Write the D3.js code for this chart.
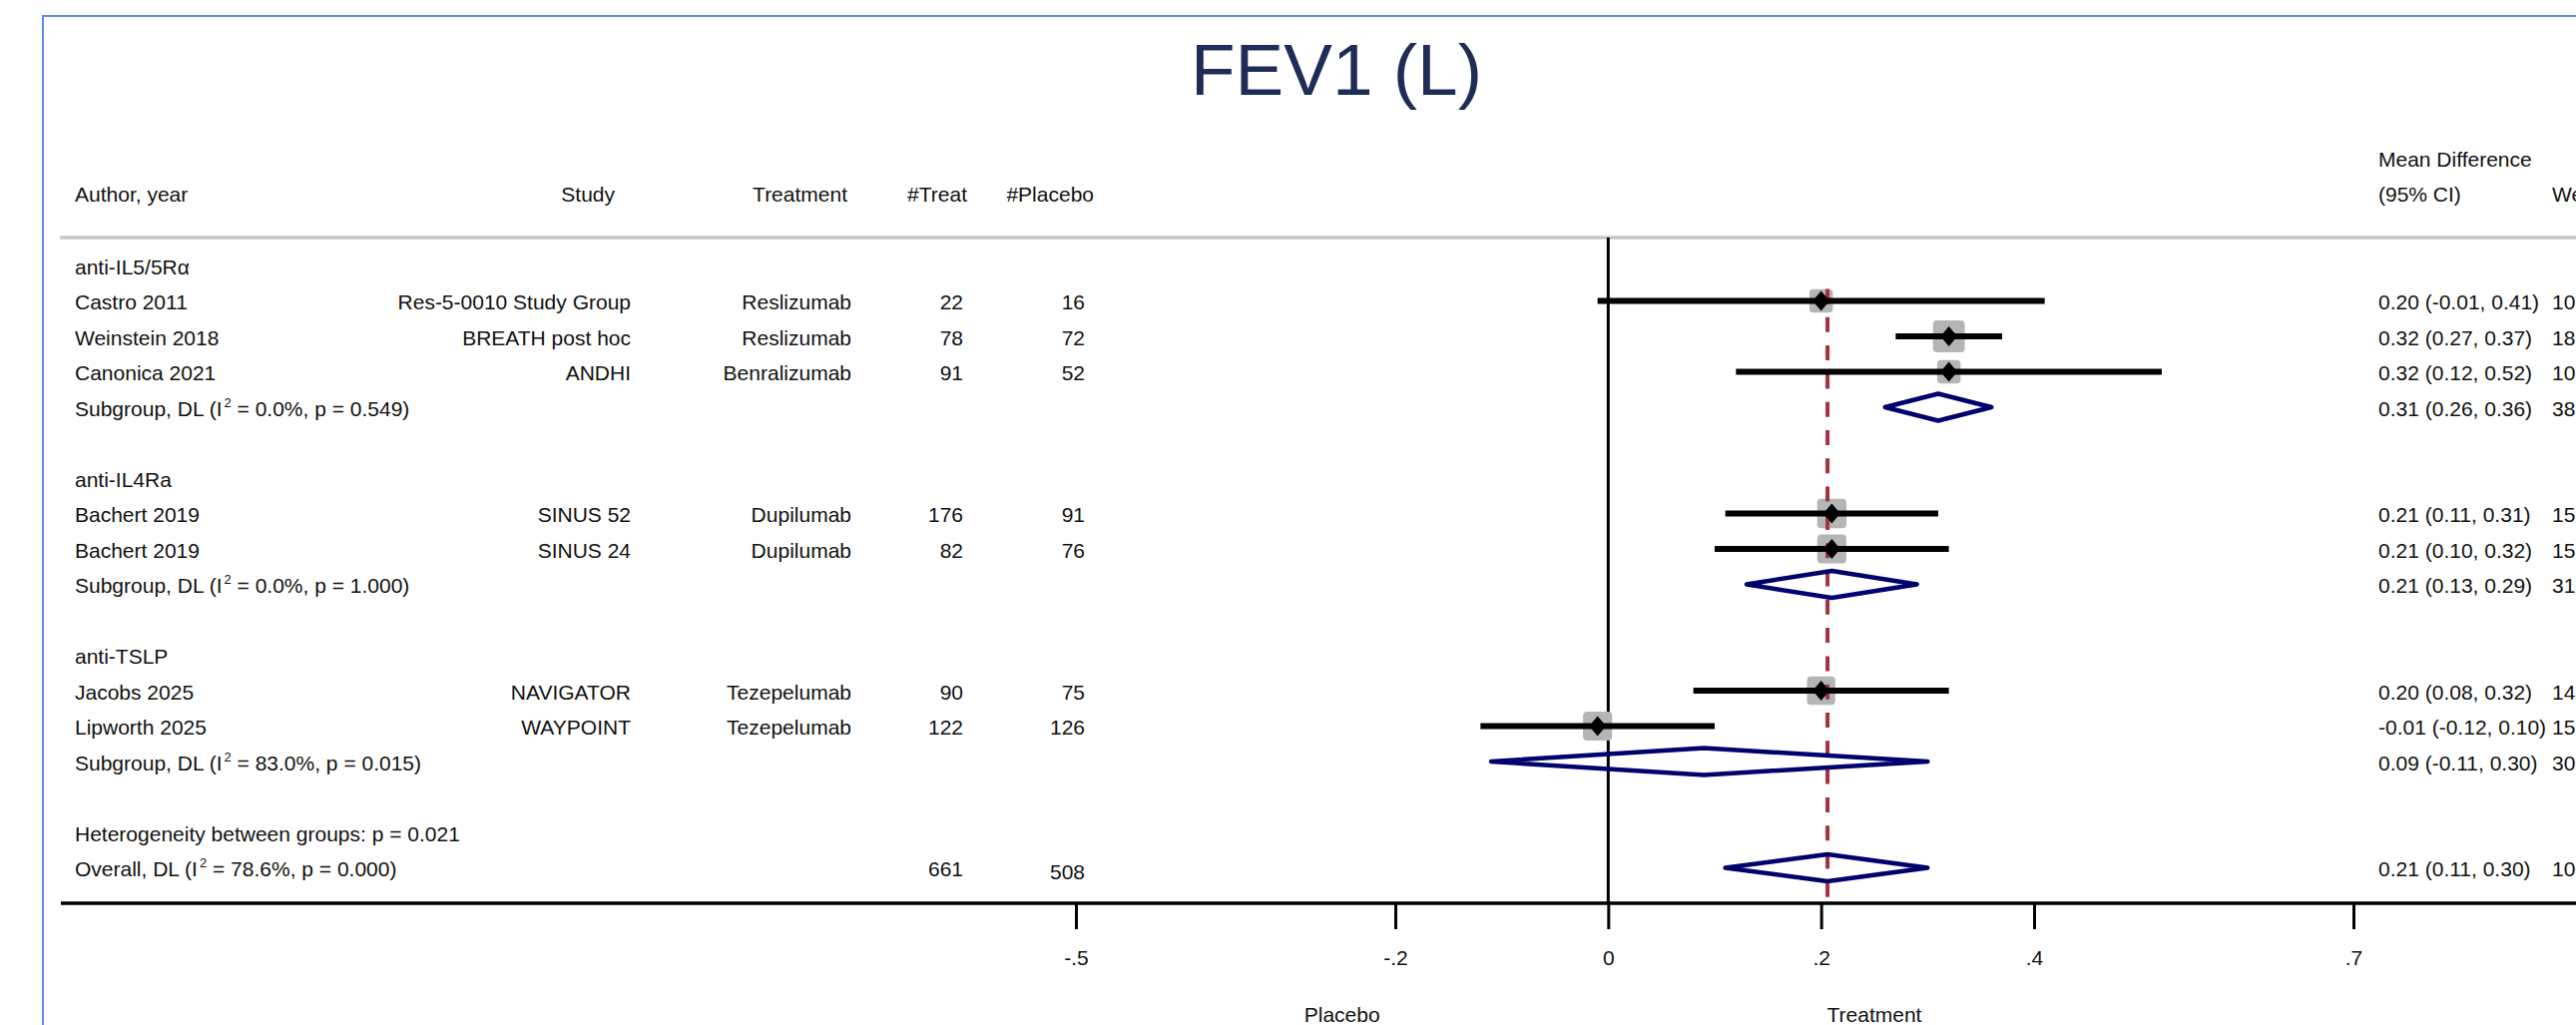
<!DOCTYPE html>
<html>
<head>
<meta charset="utf-8">
<script src="https://cdn.jsdelivr.net/npm/d3@7"></script>
<style>
  html, body { margin: 0; padding: 0; background: #fff; }
  svg { display: block; }
  text { font-family: "Liberation Sans", Arial, sans-serif; fill: #111; }
</style>
</head>
<body>
<svg id="chart" width="2581" height="1027"></svg>
<script>
// ---------------- DATA ----------------
const title = "FEV1 (L)";
const groupNames = ["anti-IL5/5Rα", "anti-IL4Ra", "anti-TSLP"];
const groupOf    = [0, 0, 0, 1, 1, 2, 2];
const authors    = ["Castro 2011", "Weinstein 2018", "Canonica 2021", "Bachert 2019", "Bachert 2019", "Jacobs 2025", "Lipworth 2025"];
const studies    = ["Res-5-0010 Study Group", "BREATH post hoc", "ANDHI", "SINUS 52", "SINUS 24", "NAVIGATOR", "WAYPOINT"];
const treatments = ["Reslizumab", "Reslizumab", "Benralizumab", "Dupilumab", "Dupilumab", "Tezepelumab", "Tezepelumab"];
const nTreat     = [22, 78, 91, 176, 82, 90, 122];
const nPlacebo   = [16, 72, 52, 91, 76, 75, 126];
const md         = [0.20, 0.32, 0.32, 0.21, 0.21, 0.20, -0.01];
const mdLow      = [-0.01, 0.27, 0.12, 0.11, 0.10, 0.08, -0.12];
const mdHigh     = [0.41, 0.37, 0.52, 0.31, 0.32, 0.32, 0.10];
const weights    = [10.14, 18.47, 10.09, 15.70, 15.50, 14.60, 15.50];

const subMD      = [0.31, 0.21, 0.09];
const subLow     = [0.26, 0.13, -0.11];
const subHigh    = [0.36, 0.29, 0.30];
const subWeight  = [38.70, 31.20, 30.10];
const subI2      = ["0.0", "0.0", "83.0"];
const subP       = ["0.549", "1.000", "0.015"];

const overallMD = 0.206, overallLow = 0.11, overallHigh = 0.30;
const overallI2 = "78.6", overallP = "0.000", hetP = "0.021";
const overallNTreat = 661, overallNPlacebo = 508;

const tickValues = [-0.5, -0.2, 0, 0.2, 0.4, 0.7];
const tickLabels = ["-.5", "-.2", "0", ".2", ".4", ".7"];
const sideLabels = ["Placebo", "Treatment"];

// ---------------- LAYOUT ----------------
const W = 2581, H = 1027;
const FS = 21;
const svg = d3.select("#chart");
const locale = d3.formatLocale({decimal: ".", thousands: ",", grouping: [3], currency: ["", ""], minus: "-"});
const f2 = locale.format(".2f");

const x = d3.scaleLinear().domain([-0.5, 0.7]).range([1078, 2358]);
const y = d3.scaleLinear().domain([0, 17]).range([266, 266 + 35.5 * 17]);
const axisY = 905, sepY = 238;

// Build rows
const rows = [];
let r = 0;
groupNames.forEach((g, gi) => {
  rows.push({type: "group", row: r++, label: g});
  md.forEach((v, i) => { if (groupOf[i] === gi) rows.push({type: "study", row: r++, i}); });
  rows.push({type: "sub", row: r++, gi});
  r++; // blank
});
rows.push({type: "het", row: r++});
rows.push({type: "overall", row: r++});

// Border
svg.append("rect").attr("x", 43).attr("y", 16).attr("width", W).attr("height", H + 50)
  .attr("fill", "none").attr("stroke", "#5b8ce0").attr("stroke-width", 2);

// Title
svg.append("text").attr("x", 1339).attr("y", 95).attr("text-anchor", "middle")
  .style("font-size", "73px").style("fill", "#1e2c56").text(title);

// Headers
const hdr = svg.append("g").style("font-size", FS + "px");
hdr.append("text").attr("x", 75).attr("y", 202).text("Author, year");
hdr.append("text").attr("x", 616).attr("y", 202).attr("text-anchor", "end").text("Study");
hdr.append("text").attr("x", 849).attr("y", 202).attr("text-anchor", "end").text("Treatment");
hdr.append("text").attr("x", 969).attr("y", 202).attr("text-anchor", "end").text("#Treat");
hdr.append("text").attr("x", 1096).attr("y", 202).attr("text-anchor", "end").text("#Placebo");
hdr.append("text").attr("x", 2383).attr("y", 167).text("Mean Difference");
hdr.append("text").attr("x", 2383).attr("y", 202).text("(95% CI)");
hdr.append("text").attr("x", 2557).attr("y", 202).text("Weight");

// Separator line
svg.append("line").attr("x1", 60).attr("x2", W).attr("y1", sepY).attr("y2", sepY)
  .attr("stroke", "#c6c6c6").attr("stroke-width", 3.5);

// Zero line
svg.append("line").attr("x1", x(0)).attr("x2", x(0)).attr("y1", sepY).attr("y2", axisY)
  .attr("stroke", "#000").attr("stroke-width", 3);

const studyRows = rows.filter(d => d.type === "study");

// Weight boxes
svg.append("g").selectAll("rect").data(studyRows).join("rect")
  .attr("x", d => x(md[d.i]) - 3.7 * Math.sqrt(weights[d.i]))
  .attr("y", d => y(d.row) - 3.7 * Math.sqrt(weights[d.i]))
  .attr("width", d => 7.4 * Math.sqrt(weights[d.i]))
  .attr("height", d => 7.4 * Math.sqrt(weights[d.i]))
  .attr("rx", 4).attr("fill", "#b5b5b5");

// Overall dashed line
svg.append("line").attr("x1", x(overallMD)).attr("x2", x(overallMD))
  .attr("y1", y(1) - 12).attr("y2", axisY)
  .attr("stroke", "#a33242").attr("stroke-width", 4).attr("stroke-dasharray", "15,13.3");

// CI lines
svg.append("g").selectAll("line").data(studyRows).join("line")
  .attr("x1", d => x(mdLow[d.i])).attr("x2", d => x(mdHigh[d.i]))
  .attr("y1", d => y(d.row)).attr("y2", d => y(d.row))
  .attr("stroke", "#000").attr("stroke-width", 6);

// Point markers (black diamonds)
svg.append("g").selectAll("path").data(studyRows).join("path")
  .attr("d", d => {
    const cx = x(md[d.i]), cy = y(d.row);
    return `M${cx - 8.5},${cy}L${cx},${cy - 10}L${cx + 8.5},${cy}L${cx},${cy + 10}Z`;
  })
  .attr("fill", "#000");

// Pooled diamonds
function diamond(est, lo, hi, row) {
  const cy = y(row), h = 13.5;
  return `M${x(lo)},${cy}L${x(est)},${cy - h}L${x(hi)},${cy}L${x(est)},${cy + h}Z`;
}
const pooled = rows.filter(d => d.type === "sub").map(d => diamond(subMD[d.gi], subLow[d.gi], subHigh[d.gi], d.row));
pooled.push(diamond(overallMD, overallLow, overallHigh, rows.find(d => d.type === "overall").row));
svg.append("g").selectAll("path").data(pooled).join("path")
  .attr("d", d => d).attr("fill", "none").attr("stroke", "#00006e")
  .attr("stroke-width", 4.5).attr("stroke-linejoin", "round");

// Table text
const tg = svg.append("g").style("font-size", FS + "px");
const bl = d => y(d.row) + 8.5;
function addText(x0, yy, txt, anchor) {
  return tg.append("text").attr("x", x0).attr("y", yy).attr("text-anchor", anchor || "start").text(txt);
}
function addI2(x0, yy, prefix, i2, p) {
  const t = tg.append("text").attr("x", x0).attr("y", yy);
  t.append("tspan").text(prefix + " (I");
  t.append("tspan").attr("dy", -9).attr("dx", 2).style("font-size", "13px").text("2");
  t.append("tspan").attr("dy", 9).text(` = ${i2}%, p = ${p})`);
}
rows.forEach(d => {
  const yy = bl(d);
  if (d.type === "group") {
    addText(75, yy, d.label);
  } else if (d.type === "study") {
    const i = d.i;
    addText(75, yy, authors[i]);
    addText(632, yy, studies[i], "end");
    addText(853, yy, treatments[i], "end");
    addText(965, yy, nTreat[i], "end");
    addText(1087, yy, nPlacebo[i], "end");
    addText(2383, yy, `${f2(md[i])} (${f2(mdLow[i])}, ${f2(mdHigh[i])})`);
    addText(2557, yy, f2(weights[i]));
  } else if (d.type === "sub") {
    const g = d.gi;
    addI2(75, yy, "Subgroup, DL", subI2[g], subP[g]);
    addText(2383, yy, `${f2(subMD[g])} (${f2(subLow[g])}, ${f2(subHigh[g])})`);
    addText(2557, yy, f2(subWeight[g]));
  } else if (d.type === "het") {
    addText(75, yy, `Heterogeneity between groups: p = ${hetP}`);
  } else if (d.type === "overall") {
    addI2(75, yy, "Overall, DL", overallI2, overallP);
    addText(965, yy, overallNTreat, "end");
    addText(1087, yy + 3, overallNPlacebo, "end");
    addText(2383, yy, `0.21 (${f2(overallLow)}, ${f2(overallHigh)})`);
    addText(2557, yy, f2(100));
  }
});

// Axis
svg.append("line").attr("x1", 61).attr("x2", W).attr("y1", axisY).attr("y2", axisY)
  .attr("stroke", "#000").attr("stroke-width", 3.5);
const axis = d3.axisBottom(x).tickValues(tickValues)
  .tickFormat((d, i) => tickLabels[i]).tickSize(26).tickPadding(21);
const ag = svg.append("g").attr("transform", `translate(0,${axisY})`).call(axis);
ag.select(".domain").remove();
ag.selectAll(".tick line").attr("stroke", "#000").attr("stroke-width", 3);
ag.selectAll(".tick text").style("font-size", FS + "px")
  .style("font-family", '"Liberation Sans", Arial, sans-serif').attr("fill", "#111");

// Side labels
svg.append("g").style("font-size", FS + "px").selectAll("text").data(sideLabels).join("text")
  .attr("x", (d, i) => x(i === 0 ? -0.25 : 0.25)).attr("y", 1024)
  .attr("text-anchor", "middle").text(d => d);
</script>
</body>
</html>
